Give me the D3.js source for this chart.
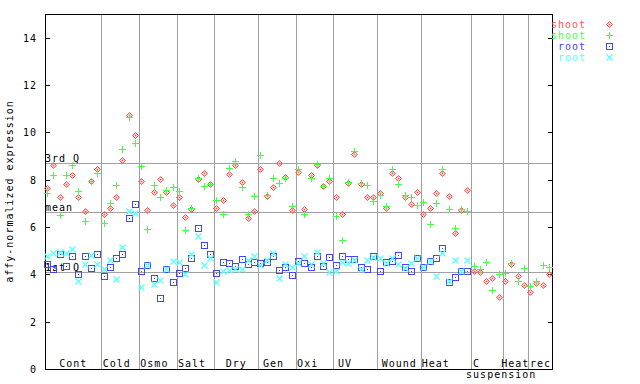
<!DOCTYPE html>
<html>
<head>
<meta charset="utf-8">
<title>expression by condition</title>
<script src="https://d3js.org/d3.v7.min.js"></script>
<style>
  body { margin: 0; background: #fff; }
  text {
    font-family: "DejaVu Sans Mono", monospace;
    font-size: 10px;
    letter-spacing: 1px;
    fill: #000;
    white-space: pre;
  }
</style>
</head>
<body>
<svg width="640" height="384"></svg>
<script>
// categories along x, how many samples each holds, and the label text drawn under them
var categories = ["Cont", "Cold", "Osmo", "Salt", "Dry", "Gen", "Oxi", "UV", "Wound", "Heat", "C suspension", "Heat", "rec"];
var catSizes = [9, 6, 6, 6, 7, 6, 6, 7, 7, 8, 5, 4, 4];
var catLabels = ["Cont", "Cold ", "Osmo ", "Salt ", "Dry", "Gen ", "Oxi  ", "UV   ", "Wound", "Heat   ", "C   \n    suspension", "Heat", "rec"];

var yTicks = [0, 2, 4, 6, 8, 10, 12, 14];

// summary lines
var statNames = ["3rd Q", "mean", "1st Q"];
var statValues = [8.69, 6.62, 4.08];

// series values, one per sample
var shootA = [
  7.63, 8.61, 7.25, 7.81, 8.20, 7.28, 6.66, 7.93, 8.47,
  6.54, 6.82, 7.25, 8.81, 10.72, 9.87,
  7.96, 6.71, 7.50, 8.01, 7.50, 6.91,
  7.25, 6.44, 6.78, 8.02, 8.30, 7.80,
  6.82, 7.13, 8.22, 8.60, 7.89, 6.40, 6.66,
  8.47, 7.31, 7.71, 8.72, 8.13, 6.70,
  8.34, 6.75, 8.18, 8.61, 7.75, 7.95,
  7.25, 6.57, 7.86, 9.10, 7.80, 7.25, 7.25,
  7.42, 6.82, 8.30, 8.09, 7.28, 6.99, 7.50,
  6.57, 6.82, 7.42, 8.30, 7.33, 5.73, 6.73, 7.58,
  4.12, 4.08, 3.70, 3.83, 3.03,
  3.70, 4.44, 3.95, 3.53,
  3.24, 3.62, 3.53, 4.00
];
var shootB = [
  7.42, 8.18, 6.50, 8.18, 8.61, 7.51, 6.26, 7.93, 8.27,
  6.18, 7.00, 7.76, 9.31, 10.64, 9.53,
  8.59, 5.90, 7.76, 7.25, 7.58, 7.71,
  7.54, 5.86, 6.82, 8.09, 7.72, 7.80,
  7.13, 6.57, 8.51, 8.80, 7.71, 6.53, 7.33,
  9.06, 7.37, 8.05, 7.88, 8.09, 6.87,
  8.43, 6.53, 8.05, 8.66, 7.72, 8.09,
  6.46, 5.45, 7.89, 9.20, 7.84, 7.76, 7.08,
  7.37, 6.90, 8.47, 7.80, 7.37, 7.25, 6.91,
  7.05, 6.11, 7.00, 8.47, 6.78, 5.94, 6.78, 6.66,
  4.34, 4.21, 4.54, 3.32, 4.00,
  4.04, 4.50, 3.70, 4.25,
  3.49, 3.70, 4.38, 4.29
];
var rootA = [
  4.42, 4.21, 4.84, 4.37, 4.79, 4.00, 4.76, 4.25, 4.84,
  3.91, 4.33, 4.67, 4.84, 6.36, 6.99,
  4.16, 4.38, 3.83, 3.01, 4.21, 3.66,
  4.04, 4.25, 4.71, 5.94, 5.26, 4.88,
  4.05, 4.51, 4.47, 4.34, 4.64, 4.42, 4.51,
  4.48, 4.51, 4.76, 4.17, 4.30, 3.96,
  4.55, 4.47, 4.30, 4.76, 4.34, 4.72,
  4.38, 4.76, 4.63, 4.63, 4.30, 4.21, 4.79,
  4.13, 4.51, 4.55, 4.80, 4.30, 4.13, 4.68,
  4.30, 4.55, 4.68, 5.10, 3.68, 3.87, 4.13, 4.13
];
var rootB = [
  4.77, 4.89, 4.94, 4.89, 5.05, 3.71, 4.42, 4.80, 4.42,
  4.21, 4.60, 3.79, 5.17, 6.66, 6.58,
  3.45, 4.40, 3.58, 3.76, 4.21, 4.58,
  4.51, 4.00, 4.85, 5.61, 4.38, 4.68,
  3.66, 4.13, 4.20, 4.21, 4.24, 4.59, 4.76,
  4.38, 4.59, 4.90, 3.83, 4.44, 4.30,
  4.48, 4.77, 4.42, 4.96, 4.47, 4.09,
  4.12, 4.52, 4.48, 4.60, 4.21, 4.60, 4.75,
  4.68, 4.50, 4.70, 4.42, 4.28, 4.46, 4.68,
  4.30, 4.55, 3.92, 4.89, 3.70, 4.59, 4.13, 4.59
];

var seriesNames = ["shoot", "shoot", "root", "root"];
var seriesValues = [shootA, shootB, rootA, rootB];
var seriesColors = ["#ff5555", "#44ff44", "#4444ff", "#55ffff"];
var seriesShapes = ["diamond", "plus", "square", "cross"];

var svg = d3.select("svg"),
  plotL = 45, plotR = 553, plotT = 14, plotB = 369;

var nSamples = d3.sum(catSizes);
var x = d3.scaleLinear().domain([0, nSamples]).range([plotL, plotR]);
var y = d3.scaleLinear().domain([0, 15]).range([plotB, plotT]);

var px = function(v) { return Math.round(v) + 0.5; };

// category boundaries
var bounds = [0];
catSizes.forEach(function(n, i) { bounds.push(bounds[i] + n); });

var grid = svg.append("g")
  .attr("stroke", "#a0a0a0")
  .attr("stroke-width", 1)
  .attr("shape-rendering", "crispEdges");

grid.selectAll(".v")
  .data(bounds.slice(1, -1))
  .enter().append("line")
    .attr("x1", d => px(x(d))).attr("x2", d => px(x(d)))
    .attr("y1", plotT).attr("y2", plotB);

grid.selectAll(".h")
  .data(statValues)
  .enter().append("line")
    .attr("x1", plotL).attr("x2", plotR)
    .attr("y1", d => px(y(d))).attr("y2", d => px(y(d)));

// stat labels
svg.append("g").selectAll("text")
  .data(statNames)
  .enter().append("text")
    .attr("x", plotL)
    .attr("y", (d, i) => Math.round(y(statValues[i])) - 1)
    .text(d => d);

// category labels
var catG = svg.append("g").selectAll("text")
  .data(catLabels)
  .enter().append("text")
    .attr("text-anchor", "middle")
    .attr("x", (d, i) => x((bounds[i] + bounds[i + 1]) / 2))
    .attr("y", 367);
catG.selectAll("tspan")
  .data(d => d.split("\n"))
  .enter().append("tspan")
    .attr("x", function() { return d3.select(this.parentNode).attr("x"); })
    .attr("dy", (d, j) => j ? 11 : 0)
    .text(d => d);

// axes
var yAxis = d3.axisLeft(y).tickValues(yTicks).tickSizeInner(-5).tickSizeOuter(0).tickPadding(8);
var gy = svg.append("g").attr("transform", "translate(" + plotL + ",0)").call(yAxis);
gy.select(".domain").remove();
gy.selectAll("text").attr("font-family", null).attr("font-size", null).attr("dy", "0.35em");
gy.selectAll("line").attr("stroke", "#000").attr("shape-rendering", "crispEdges");

var yAxisR = d3.axisRight(y).tickValues(yTicks).tickSizeInner(-5).tickSizeOuter(0).tickFormat("");
var gr = svg.append("g").attr("transform", "translate(" + plotR + ",0)").call(yAxisR);
gr.select(".domain").remove();
gr.selectAll("line").attr("stroke", "#000").attr("shape-rendering", "crispEdges");

svg.append("rect")
  .attr("x", plotL + 0.5).attr("y", plotT + 0.5)
  .attr("width", plotR - plotL - 1).attr("height", plotB - plotT)
  .attr("fill", "none").attr("stroke", "#000")
  .attr("shape-rendering", "crispEdges");

svg.append("text")
  .attr("transform", "translate(13," + (plotT + plotB) / 2 + ") rotate(-90)")
  .attr("text-anchor", "middle")
  .text("affy-normalized expression");

// marker shapes (small pixel-style glyphs)
var shapePaths = {
  diamond: "M0,-3L3,0L0,3L-3,0Z",
  plus: "M-3.5,0H3.5M0,-3.5V3.5",
  square: "M-3,-3H3V3H-3Z",
  cross: "M-3,-3L3,3M-3,3L3,-3"
};
var hasDot = { diamond: true, square: true };
var crisp = { plus: true, square: true };

function marker(sel, shape, color) {
  sel.append("path")
    .attr("d", shapePaths[shape])
    .attr("fill", shape == "diamond" ? color : "none")
    .attr("fill-opacity", 0.35)
    .attr("stroke", color)
    .attr("stroke-width", shape == "cross" ? 1.3 : 1)
    .attr("shape-rendering", crisp[shape] ? "crispEdges" : null);
  if (hasDot[shape]) {
    sel.append("rect")
      .attr("x", -0.5).attr("y", -0.5).attr("width", 1).attr("height", 1)
      .attr("fill", color)
      .attr("shape-rendering", "crispEdges");
  }
}

// points
seriesValues.forEach(function(vals, s) {
  svg.append("g").selectAll("g")
    .data(vals)
    .enter().append("g")
      .attr("transform", (d, i) => "translate(" + (Math.round(x(i + 0.5)) - 0.5) + "," + px(y(d)) + ")")
      .each(function() { marker(d3.select(this), seriesShapes[s], seriesColors[s]); });
});

// legend
var leg = svg.append("g").selectAll("g")
  .data(seriesNames)
  .enter().append("g")
    .attr("transform", (d, i) => "translate(0," + (24 + i * 11) + ")");
leg.append("text")
  .attr("x", 586).attr("dy", "0.35em")
  .attr("text-anchor", "end")
  .style("fill", (d, i) => seriesColors[i])
  .text(d => d);
leg.append("g")
  .attr("transform", "translate(609.5,0.5)")
  .each(function(d, i) { marker(d3.select(this), seriesShapes[i], seriesColors[i]); });
</script>
</body>
</html>
